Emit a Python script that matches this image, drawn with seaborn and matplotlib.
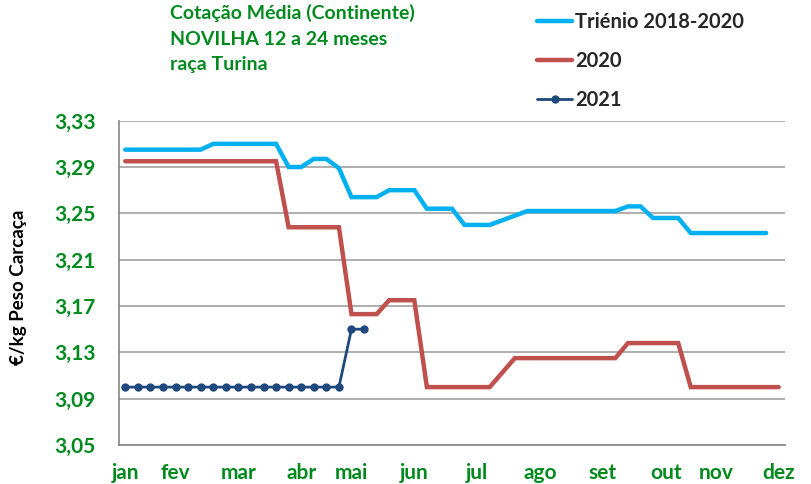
import numpy as np
import pandas as pd
import seaborn as sns
import matplotlib.pyplot as plt
from matplotlib.ticker import FixedLocator

sns.set_style("white")
plt.rcParams['font.family'] = ['Lato', 'DejaVu Sans']

# weekly prices (53 weeks)
trienio = [3.305, 3.305, 3.305, 3.305, 3.305, 3.305, 3.305,
           3.310, 3.310, 3.310, 3.310, 3.310, 3.310,
           3.290, 3.290, 3.297, 3.297, 3.289,
           3.264, 3.264, 3.264, 3.270, 3.270, 3.270,
           3.254, 3.254, 3.254, 3.240, 3.240, 3.240,
           3.244, 3.248,
           3.252, 3.252, 3.252, 3.252, 3.252, 3.252, 3.252, 3.252,
           3.256, 3.256, 3.246, 3.246, 3.246,
           3.233, 3.233, 3.233, 3.233, 3.233, 3.233, 3.233]
ano2020 = [3.295, 3.295, 3.295, 3.295, 3.295, 3.295, 3.295, 3.295, 3.295,
           3.295, 3.295, 3.295, 3.295,
           3.238, 3.238, 3.238, 3.238, 3.238,
           3.163, 3.163, 3.163, 3.175, 3.175, 3.175,
           3.100, 3.100, 3.100, 3.100, 3.100, 3.100,
           3.1125,
           3.125, 3.125, 3.125, 3.125, 3.125, 3.125, 3.125, 3.125, 3.125,
           3.138, 3.138, 3.138, 3.138, 3.138,
           3.100, 3.100, 3.100, 3.100, 3.100, 3.100, 3.100, 3.100]
ano2021 = [3.100, 3.100, 3.100, 3.100, 3.100, 3.100, 3.100, 3.100, 3.100,
           3.100, 3.100, 3.100, 3.100, 3.100, 3.100, 3.100, 3.100, 3.100,
           3.150, 3.150]

meses = ["jan", "fev", "mar", "abr", "mai", "jun", "jul", "ago", "set", "out", "nov", "dez"]
mes_semana = [0, 4, 9, 14, 18, 23, 28, 33, 38, 43, 47, 52]
y_ticks = [3.05, 3.09, 3.13, 3.17, 3.21, 3.25, 3.29, 3.33]

green = "#008A1E"

fig = plt.figure(figsize=(8.11, 4.84), dpi=100)
ax = fig.add_axes([119/811, 1 - 445/484, 666/811, (445 - 120.7)/484])

df_t = pd.DataFrame({"semana": np.arange(len(trienio)), "preco": trienio})
df_20 = pd.DataFrame({"semana": np.arange(len(ano2020)), "preco": ano2020})
df_21 = pd.DataFrame({"semana": np.arange(len(ano2021)), "preco": ano2021})

sns.lineplot(data=df_t, x="semana", y="preco", ax=ax, color="#00B0F0", lw=3.2,
             label="Triénio 2018-2020", solid_joinstyle="miter")
sns.lineplot(data=df_20, x="semana", y="preco", ax=ax, color="#C0504D", lw=3.2,
             label="2020", solid_joinstyle="miter")
sns.lineplot(data=df_21, x="semana", y="preco", ax=ax, color="#1F497D", lw=2,
             marker="o", markersize=6, markeredgewidth=0, label="2021")

ax.set_xlim(-0.5, 52.5)
ax.set_ylim(3.05, 3.33)
ax.set_yticks(y_ticks)
ax.set_yticklabels([f"{v:.2f}".replace(".", ",") for v in y_ticks])
ax.yaxis.grid(True, color="#A8A8A8", lw=1.3)
ax.set_axisbelow(True)

ax.set_xticks(mes_semana)
ax.set_xticklabels(meses)
ax.xaxis.set_minor_locator(FixedLocator(np.arange(-0.5, 53, 1)))
ax.tick_params(axis="x", which="major", length=0, pad=13)
ax.tick_params(axis="x", which="minor", length=4.5, width=1, color="#A6A6A6", direction="out")
ax.tick_params(axis="y", length=6, width=1, color="#A6A6A6", direction="out", pad=11)
for lab in ax.get_xticklabels() + ax.get_yticklabels():
    lab.set_color(green)
    lab.set_fontweight("bold")
    lab.set_fontsize(15)

for s in ["top", "right"]:
    ax.spines[s].set_visible(False)
for s in ["left", "bottom"]:
    ax.spines[s].set_color("#868686")
    ax.spines[s].set_linewidth(1.2)

ax.set_xlabel("")
ax.set_ylabel("€/kg Peso Carcaça", fontsize=13.5, fontweight="bold", color="black")
ax.yaxis.set_label_coords(-0.138, 0.487)

fig.text(170/811, 1 - 4/484, "Cotação Média (Continente)\nNOVILHA 12 a 24 meses\nraça Turina",
         color=green, fontsize=14, fontweight="bold", va="top", ha="left",
         linespacing=1.62)

handles, labels = ax.get_legend_handles_labels()
ax.legend_.remove()
fig.legend(handles, labels, loc="upper left", bbox_to_anchor=(537/811, 1 - 12/484),
           frameon=False, labelspacing=0.95, handlelength=1.75,
           handletextpad=0.15, borderpad=0, borderaxespad=0,
           prop={"weight": "bold", "size": 14.5})

fig.savefig("out.png", dpi=100)
